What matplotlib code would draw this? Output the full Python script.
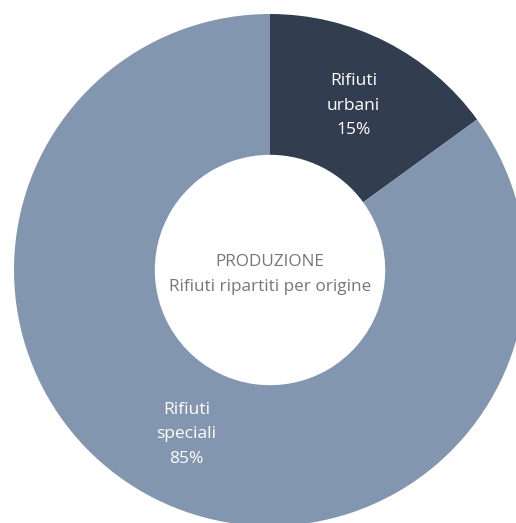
import numpy as np
import matplotlib.pyplot as plt

# data
categories = ['Rifiuti\nurbani', 'Rifiuti\nspeciali']
shares = [15, 85]
colors = ['#333d50', '#8396b0']
center_title = 'PRODUZIONE'
center_sub = 'Rifiuti ripartiti per origine'

plt.rcParams['font.family'] = ['Open Sans', 'DejaVu Sans']

W, H = 516, 523
fig = plt.figure(figsize=(W / 100, H / 100), dpi=100)
ax = fig.add_axes([0, 0, 1, 1])

cx, cy = 270, H - 270
R = 256
wedges, _ = ax.pie(shares, colors=colors, startangle=90, counterclock=False,
                   radius=R, center=(cx, cy),
                   wedgeprops=dict(width=R * 0.55, linewidth=0))

# slice labels at ~0.72 of the radius, on the wedge mid-angle
for w, name, val in zip(wedges, categories, shares):
    mid = np.deg2rad((w.theta1 + w.theta2) / 2)
    x = cx + 0.72 * R * np.cos(mid)
    y = cy + 0.72 * R * np.sin(mid)
    ax.text(x, y, f'{name}\n{val}%', ha='center', va='center', color='white',
            fontsize=12.5, linespacing=1.7)

ax.text(cx, cy + 8, center_title, ha='center', va='center', color='#777777', fontsize=12.3)
ax.text(cx, cy - 17, center_sub, ha='center', va='center', color='#777777', fontsize=12.3)

ax.set_xlim(0, W)
ax.set_ylim(0, H)
ax.set_aspect('equal')
ax.axis('off')

fig.savefig('out.png', dpi=100)
